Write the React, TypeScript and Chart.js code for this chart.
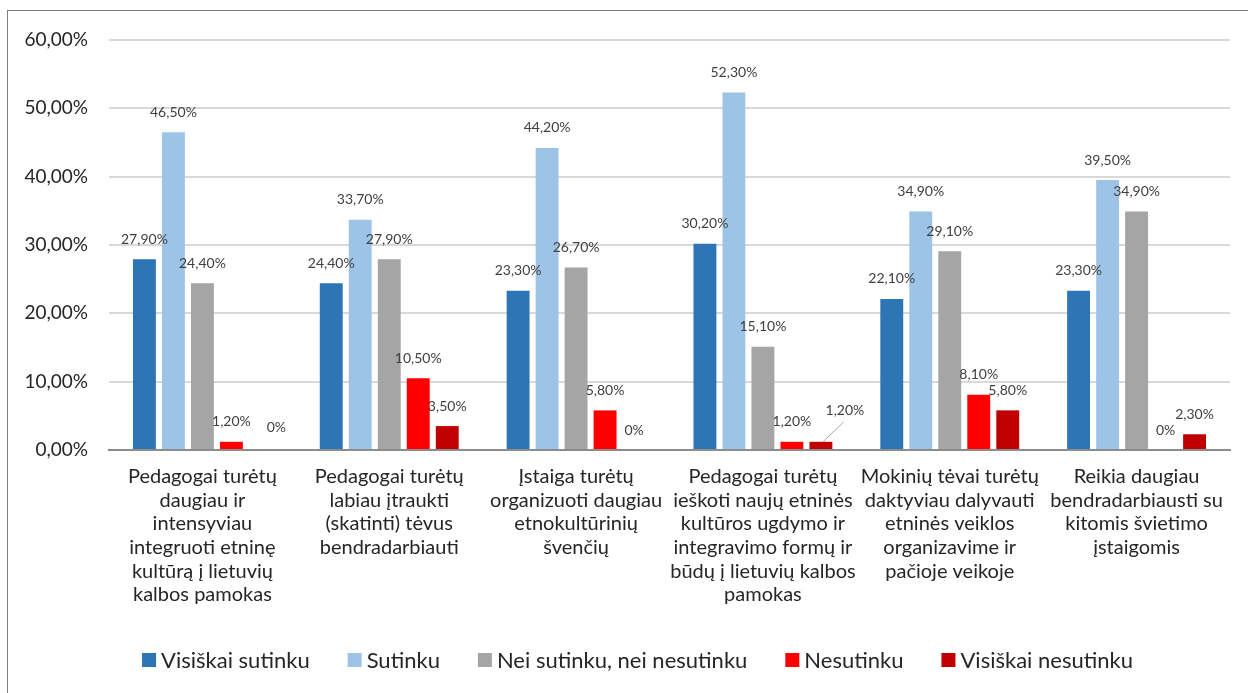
import React, { useEffect, useRef } from "react";
import { Chart, registerables } from "chart.js";

Chart.register(...registerables);

const categories: string[][] = [
  ["Pedagogai turėtų", "daugiau ir", "intensyviau", "integruoti etninę", "kultūrą į lietuvių", "kalbos pamokas"],
  ["Pedagogai turėtų", "labiau įtraukti", "(skatinti) tėvus", "bendradarbiauti"],
  ["Įstaiga turėtų", "organizuoti daugiau", "etnokultūrinių", "švenčių"],
  ["Pedagogai turėtų", "ieškoti naujų etninės", "kultūros ugdymo ir", "integravimo formų ir", "būdų į lietuvių kalbos", "pamokas"],
  ["Mokinių tėvai turėtų", "daktyviau dalyvauti", "etninės veiklos", "organizavime ir", "pačioje veikoje"],
  ["Reikia daugiau", "bendradarbiausti su", "kitomis švietimo", "įstaigomis"],
];

const seriesNames = ["Visiškai sutinku", "Sutinku", "Nei sutinku, nei nesutinku", "Nesutinku", "Visiškai nesutinku"];
const visiskaiSutinku = [27.9, 24.4, 23.3, 30.2, 22.1, 23.3];
const sutinku = [46.5, 33.7, 44.2, 52.3, 34.9, 39.5];
const neiSutinku = [24.4, 27.9, 26.7, 15.1, 29.1, 34.9];
const nesutinku = [1.2, 10.5, 5.8, 1.2, 8.1, 0];
const visiskaiNesutinku = [0, 3.5, 0, 1.2, 5.8, 2.3];
const seriesColors = ["#2E75B6", "#9DC3E6", "#A5A5A5", "#FF0000", "#C00000"];
const yTicks = [0, 10, 20, 30, 40, 50, 60];

const FONT = "Lato, 'Noto Sans', sans-serif";

const fmtLabel = (v: number) => (v === 0 ? "0%" : v.toFixed(2).replace(".", ",") + "%");
const fmtTick = (v: number) => v.toFixed(2).replace(".", ",") + "%";

const dataLabelPlugin = {
  id: "dataLabels",
  afterDatasetsDraw(chart: any) {
    const ctx = chart.ctx;
    ctx.save();
    ctx.font = `14px ${FONT}`;
    ctx.fillStyle = "#404040";
    ctx.textAlign = "center";
    ctx.textBaseline = "middle";
    const placed: Record<number, { x: number; y: number; w: number }[]> = {};
    chart.data.datasets.forEach((ds: any, di: number) => {
      const meta = chart.getDatasetMeta(di);
      meta.data.forEach((bar: any, i: number) => {
        const v = ds.data[i];
        const text = fmtLabel(v);
        const w = ctx.measureText(text).width;
        let x = bar.x;
        let y = bar.y - 20;
        const list = (placed[i] = placed[i] || []);
        const clash = list.some((p) => Math.abs(p.x - x) < (p.w + w) / 2 + 2 && Math.abs(p.y - y) < 14);
        if (clash && v === 0) {
          x += 16;
          y -= 3;
        } else if (clash) {
          x += 24;
          y -= 11;
          ctx.save();
          ctx.strokeStyle = "#a6a6a6";
          ctx.lineWidth = 1;
          ctx.beginPath();
          ctx.moveTo(x - 1, y + 11);
          ctx.lineTo(bar.x + 2, bar.y);
          ctx.stroke();
          ctx.restore();
        }
        ctx.fillText(text, x, y);
        list.push({ x, y, w });
      });
    });
    ctx.restore();
  },
};

const legendPlugin = {
  id: "customLegend",
  afterDraw(chart: any) {
    const ctx = chart.ctx;
    ctx.save();
    ctx.font = `22px ${FONT}`;
    ctx.textBaseline = "middle";
    ctx.textAlign = "left";
    const box = 14;
    const gapText = 5;
    const gapItem = 38;
    const items = chart.data.datasets.map((ds: any) => ({
      text: ds.label as string,
      color: ds.backgroundColor as string,
      w: box + gapText + ctx.measureText(ds.label).width,
    }));
    const total = items.reduce((s: number, it: any) => s + it.w, 0) + gapItem * (items.length - 1);
    let x = 629.5 - total / 2;
    const y = 649;
    items.forEach((it: any) => {
      ctx.fillStyle = it.color;
      ctx.fillRect(x, y - box / 2, box, box);
      ctx.fillStyle = "#262626";
      ctx.fillText(it.text, x + box + gapText, y + 1);
      x += it.w + gapItem;
    });
    ctx.restore();
  },
};

export default function App() {
  const ref = useRef<HTMLCanvasElement | null>(null);
  useEffect(() => {
    if (!ref.current) return;
    const values = [visiskaiSutinku, sutinku, neiSutinku, nesutinku, visiskaiNesutinku];
    const chart = new Chart(ref.current, {
      type: "bar",
      data: {
        labels: categories,
        datasets: values.map((d, i) => ({
          label: seriesNames[i],
          data: d,
          backgroundColor: seriesColors[i],
          borderWidth: 0,
          categoryPercentage: 0.776,
          barPercentage: 0.79,
        })),
      },
      options: {
        animation: false,
        responsive: false,
        devicePixelRatio: 1,
        layout: { padding: { top: 29, right: 18, left: 0, bottom: 0 } },
        plugins: {
          tooltip: { enabled: false },
          legend: { display: false },
        },
        scales: {
          x: {
            grid: { display: false, drawTicks: false },
            border: { color: "#8c8c8c", width: 2 },
            ticks: {
              color: "#262626",
              font: { family: FONT, size: 20, lineHeight: 1.18 },
              padding: 15,
              maxRotation: 0,
              minRotation: 0,
              autoSkip: false,
            },
            afterFit: (s: any) => {
              s.height = 243;
            },
          },
          y: {
            min: 0,
            max: 60,
            afterBuildTicks: (s: any) => {
              s.ticks = yTicks.map((v) => ({ value: v }));
            },
            grid: { color: "#d9d9d9", lineWidth: 2, drawTicks: false },
            border: { display: false },
            ticks: {
              color: "#262626",
              font: { family: FONT, size: 19 },
              padding: 21,
              callback: (v: any) => fmtTick(Number(v)),
            },
            afterFit: (s: any) => {
              s.width = 101;
              s.paddingTop = 0;
              s.paddingBottom = 0;
            },
          },
        },
      },
      plugins: [dataLabelPlugin, legendPlugin],
    } as any);
    return () => chart.destroy();
  }, []);

  return (
    <div
      style={{
        position: "fixed",
        left: 7,
        top: 10,
        width: 1400,
        height: 800,
        border: "1px solid #7f7f7f",
        background: "#fff",
        boxSizing: "border-box",
      }}
    >
      <canvas ref={ref} width={1240} height={682} style={{ position: "absolute", left: 0, top: 0, width: 1240, height: 682 }} />
    </div>
  );
}
